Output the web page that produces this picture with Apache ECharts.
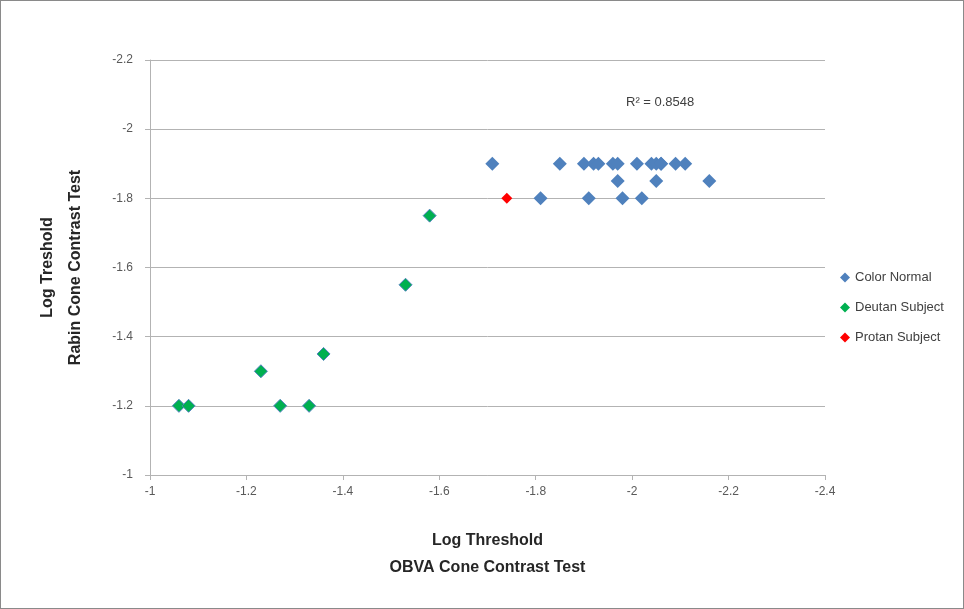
<!DOCTYPE html>
<html>
<head>
<meta charset="utf-8">
<script src="https://cdn.jsdelivr.net/npm/echarts@6/dist/echarts.min.js"></script>
<style>
    html, body { margin: 0; padding: 0; background: #fff; }
    #chart { width: 962px; height: 607px; border: 1px solid #8a8a8a; }
</style>
</head>
<body>
<div id="chart"></div>
<script>
// values (log thresholds)
var normalX = [-1.71, -1.85, -1.90, -1.92, -1.93, -1.96, -1.97, -2.01, -2.04, -2.05, -2.06, -2.06, -2.09, -2.11,
               -1.97, -2.05, -2.16,
               -1.81, -1.91, -1.98, -2.02];
var normalY = [-1.9, -1.9, -1.9, -1.9, -1.9, -1.9, -1.9, -1.9, -1.9, -1.9, -1.9, -1.9, -1.9, -1.9,
               -1.85, -1.85, -1.85,
               -1.8, -1.8, -1.8, -1.8];
var deutanX = [-1.06, -1.08, -1.23, -1.27, -1.33, -1.36, -1.53, -1.58];
var deutanY = [-1.2, -1.2, -1.3, -1.2, -1.2, -1.35, -1.55, -1.75];
var protanX = [-1.74];
var protanY = [-1.8];
var seriesNames = ['Color Normal', 'Deutan Subject', 'Protan Subject'];
var rSquared = 'R² = 0.8548';

function pairs(xs, ys) {
    return xs.map(function (x, i) { return [x, ys[i]]; });
}

var myChart = echarts.init(document.getElementById('chart'));
var font = 'Liberation Sans, Arial, sans-serif';

var option = {
    animation: false,
    title: {
        text: rSquared,
        left: 620,
        top: 90,
        textStyle: { fontFamily: font, fontSize: 13, fontWeight: 'normal', color: '#404040' }
    },
    grid: {
        left: 149,
        right: 138,
        top: 59,
        bottom: 133
    },
    legend: {
        orient: 'vertical',
        left: 834,
        top: 265,
        itemGap: 17,
        itemWidth: 10,
        itemHeight: 10,
        icon: 'diamond',
        data: seriesNames.map(function (n) {
            return { name: n, itemStyle: { borderWidth: 0 } };
        }),
        textStyle: { fontFamily: font, fontSize: 13, color: '#404040' }
    },
    xAxis: {
        type: 'value',
        inverse: true,
        min: -2.4,
        max: -1,
        interval: 0.2,
        name: 'Log Threshold\nOBVA Cone Contrast Test',
        nameLocation: 'middle',
        nameGap: 52,
        nameTextStyle: { fontFamily: font, fontSize: 16, fontWeight: 'bold', color: '#262626', lineHeight: 27 },
        axisLine: { onZero: false, lineStyle: { color: '#b3b3b3' } },
        axisTick: { show: true, length: 5, lineStyle: { color: '#b3b3b3' } },
        axisLabel: { margin: 11, fontFamily: font, fontSize: 12, color: '#595959' },
        splitLine: { show: false }
    },
    yAxis: {
        type: 'value',
        inverse: true,
        min: -2.2,
        max: -1,
        interval: 0.2,
        name: 'Log Treshold\nRabin Cone Contrast Test',
        nameLocation: 'middle',
        nameRotate: 90,
        nameGap: 60,
        nameTextStyle: { fontFamily: font, fontSize: 16, fontWeight: 'bold', color: '#262626', lineHeight: 28 },
        axisLine: { show: true, onZero: false, lineStyle: { color: '#b3b3b3' } },
        axisTick: { show: true, length: 5, lineStyle: { color: '#b3b3b3' } },
        axisLabel: { margin: 17, fontFamily: font, fontSize: 12, color: '#595959' },
        splitLine: { show: true, lineStyle: { color: '#b3b3b3', width: 1 } }
    },
    series: [
        {
            name: seriesNames[0],
            type: 'scatter',
            symbol: 'diamond',
            symbolSize: 14,
            itemStyle: { color: '#4f81bd', opacity: 1 },
            data: pairs(normalX, normalY)
        },
        {
            name: seriesNames[1],
            type: 'scatter',
            symbol: 'diamond',
            symbolSize: 13,
            itemStyle: { color: '#00b050', borderColor: '#4f81bd', borderWidth: 1, opacity: 1 },
            data: pairs(deutanX, deutanY)
        },
        {
            name: seriesNames[2],
            type: 'scatter',
            symbol: 'diamond',
            symbolSize: 11,
            itemStyle: { color: '#ff0000', opacity: 1 },
            data: pairs(protanX, protanY)
        }
    ]
};

option && myChart.setOption(option);
</script>
</body>
</html>
